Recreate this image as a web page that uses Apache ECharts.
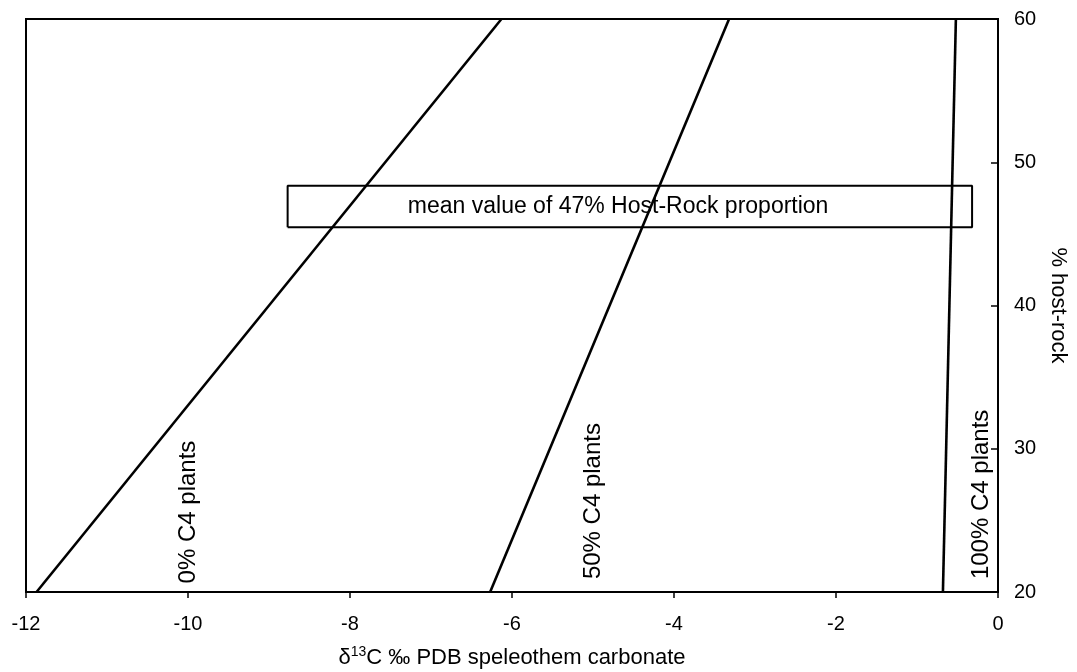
<!DOCTYPE html>
<html>
<head>
<meta charset="utf-8">
<script src="https://cdn.jsdelivr.net/npm/echarts@6/dist/echarts.min.js"></script>
<style>
  html, body { margin: 0; padding: 0; background: #fff; }
  #chart { width: 1077px; height: 672px; }
</style>
</head>
<body>
<div id="chart"></div>
<script>
// host-rock proportion (%) at the two ends of each mixing line
const hostRock = [20, 60];
// d13C of speleothem carbonate at hostRock[0] and hostRock[1]
const line0 = [-11.87, -6.13];
const line50 = [-6.27, -3.32];
const line100 = [-0.68, -0.52];
const lineNames = ['0% C4 plants', '50% C4 plants', '100% C4 plants'];
// where each line label sits (bottom of rotated text)
const labelX = [-10.0, -5.0, -0.21];
const labelY = [20.6, 20.9, 20.9];

// mean host-rock box
const boxX = [-8.77, -0.32];
const boxY = [45.46, 48.36];
const boxText = 'mean value of 47% Host-Rock proportion';
const boxTextPos = [-4.69, 46.9];

const xTicks = { min: -12, max: 0, step: 2 };
const yTicks = { min: 20, max: 60, step: 10 };

const font = 'Liberation Sans, Arial, sans-serif';

function mkLine(name, xs) {
  return {
    name: name,
    type: 'line',
    data: xs.map((x, i) => [x, hostRock[i]]),
    symbol: 'none',
    lineStyle: { color: '#000', width: 2.6 },
    silent: true
  };
}

const chart = echarts.init(document.getElementById('chart'));
chart.setOption({
  animation: false,
  grid: {
    left: 26, right: 79, top: 19, bottom: 80, containLabel: false, outerBoundsMode: 'none',
    show: true, borderColor: '#000', borderWidth: 2
  },
  xAxis: {
    type: 'value',
    min: xTicks.min, max: xTicks.max, interval: xTicks.step,
    splitLine: { show: false },
    axisLine: { lineStyle: { color: '#000', width: 2 } },
    axisTick: { inside: false, length: 6, lineStyle: { color: '#000', width: 1.5 } },
    axisLabel: { color: '#000', fontSize: 20, fontFamily: font, margin: 22 },
    name: '{t|δ}{s|13}{t|C ‰ PDB speleothem carbonate}',
    nameLocation: 'middle',
    nameGap: 53,
    nameTextStyle: {
      rich: {
        t: { color: '#000', fontSize: 22, fontFamily: font },
        s: { color: '#000', fontSize: 14, fontFamily: font, verticalAlign: 'bottom', padding: [0, 0, 11, 0] }
      }
    }
  },
  yAxis: {
    type: 'value',
    position: 'right',
    min: yTicks.min, max: yTicks.max, interval: yTicks.step,
    splitLine: { show: false },
    axisLine: { show: true, lineStyle: { color: '#000', width: 2 } },
    axisTick: { show: true, inside: true, length: 7, lineStyle: { color: '#000', width: 1.5 } },
    axisLabel: { color: '#000', fontSize: 20, fontFamily: font, margin: 16 },
    name: '% host-rock',
    nameLocation: 'middle',
    nameRotate: -90,
    nameGap: 46,
    nameTextStyle: { color: '#000', fontSize: 22, fontFamily: font }
  },
  series: [
    mkLine(lineNames[0], line0),
    mkLine(lineNames[1], line50),
    mkLine(lineNames[2], line100),
    {
      type: 'line',
      data: [[boxX[0], boxY[0]], [boxX[1], boxY[0]], [boxX[1], boxY[1]], [boxX[0], boxY[1]], [boxX[0], boxY[0]]],
      symbol: 'none',
      lineStyle: { color: '#000', width: 2 },
      silent: true
    },
    {
      type: 'scatter',
      symbolSize: 0,
      itemStyle: { color: '#000', opacity: 1 },
      data: lineNames.map((n, i) => ({ name: n, value: [labelX[i], labelY[i]] })),
      label: {
        show: true, position: 'inside', rotate: 90, align: 'left', verticalAlign: 'middle',
        formatter: '{b}', color: '#000', opacity: 1, textBorderWidth: 0, fontSize: 24, fontFamily: font
      },
      silent: true
    },
    {
      type: 'scatter',
      symbolSize: 0,
      itemStyle: { color: '#000', opacity: 1 },
      data: [{ name: boxText, value: boxTextPos }],
      label: {
        show: true, position: 'inside', align: 'center', verticalAlign: 'middle',
        formatter: '{b}', color: '#000', opacity: 1, textBorderWidth: 0, fontSize: 23, fontFamily: font
      },
      silent: true
    }
  ]
});
</script>
</body>
</html>
